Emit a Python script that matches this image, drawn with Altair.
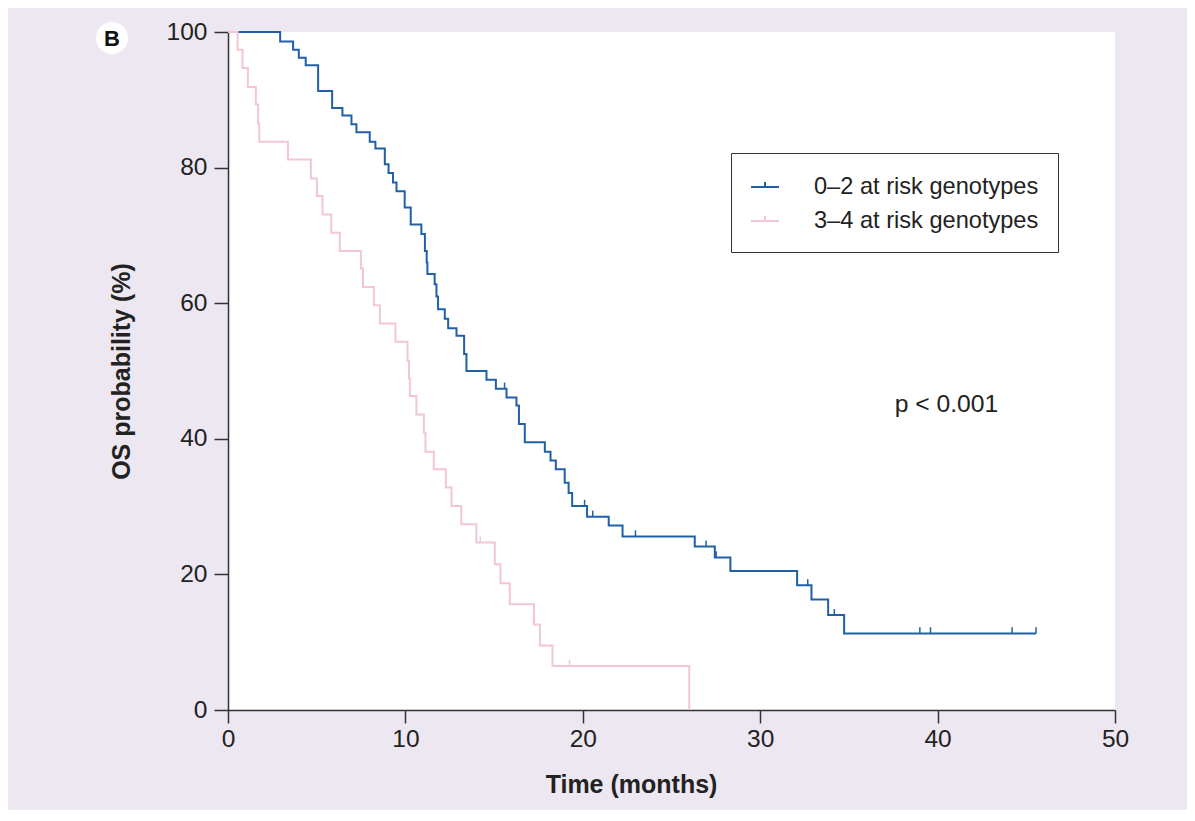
import altair as alt
import pandas as pd

# ---------------- data ----------------
blue_label = "0–2 at risk genotypes"
pink_label = "3–4 at risk genotypes"

blue_time = [0, 2.94, 3.67, 3.99, 4.38, 5.08, 5.87, 6.45, 6.96, 7.24, 7.99, 8.31, 8.84, 9.05,
             9.3, 9.5, 9.96, 10.3, 10.9, 11.1, 11.2, 11.24, 11.65, 11.75, 11.84, 12.22, 12.41,
             12.88, 13.31, 13.44, 14.57, 15.1, 15.7, 16.26, 16.4, 16.73, 17.86, 18.18, 18.48,
             18.98, 19.2, 19.4, 20.24, 21.46, 22.24, 26.31, 27.44, 28.32, 32.08, 32.89, 33.83,
             34.73, 45.55]
blue_surv = [100, 98.6, 97.4, 96.2, 95.1, 91.3, 88.8, 87.7, 86.4, 85.2, 83.8, 82.8, 80.5, 79.2,
             77.8, 76.5, 74.1, 71.6, 70.2, 67.7, 66.0, 64.3, 62.8, 61.0, 59.1, 57.7, 56.3,
             55.2, 52.5, 50.0, 48.7, 47.4, 46.1, 44.9, 42.2, 39.5, 38.1, 36.8, 35.5,
             33.5, 32.0, 30.1, 28.5, 27.2, 25.6, 24.1, 22.5, 20.5, 18.4, 16.3, 14.0,
             11.3, 11.3]

pink_time = [0, 0.54, 0.82, 1.12, 1.57, 1.7, 1.76, 3.38, 4.67, 5.01, 5.33, 5.82, 6.3, 7.49,
             7.61, 8.22, 8.56, 9.44, 10.12, 10.2, 10.25, 10.62, 11.04, 11.13, 11.6, 12.28,
             12.6, 13.15, 14.0, 15.04, 15.36, 15.88, 17.25, 17.58, 18.29, 26.0]
pink_surv = [100, 97.4, 94.7, 91.9, 89.3, 86.5, 83.8, 81.2, 78.4, 75.8, 73.1, 70.4, 67.7, 65.1,
             62.4, 59.7, 57.0, 54.3, 51.5, 48.9, 46.3, 43.6, 40.9, 38.1, 35.5, 32.8,
             30.1, 27.4, 24.7, 21.5, 18.7, 15.6, 12.6, 9.5, 6.5, 0]

blue_cens_time = [15.59, 20.1, 20.56, 22.97, 26.95, 27.52, 32.68, 34.18, 39.0, 39.6, 44.2, 45.55]
blue_cens_surv = [47.4, 30.1, 28.5, 25.6, 24.1, 22.5, 18.4, 14.0, 11.3, 11.3, 11.3, 11.3]
pink_cens_time = [14.22, 19.25]
pink_cens_surv = [24.7, 6.5]

p_text = ["p < 0.001"]
p_time = [40.5]
p_surv = [45.0]

panel_letter = ["B"]

x_ticks = [0, 10, 20, 30, 40, 50]
y_ticks = [0, 20, 40, 60, 80, 100]

blue_color = "#2060a8"
pink_color = "#f2c6d3"
font = "Liberation Sans"

# ---------------- frames ----------------
curves = pd.concat([
    pd.DataFrame({"time": blue_time, "surv": blue_surv, "group": blue_label}),
    pd.DataFrame({"time": pink_time, "surv": pink_surv, "group": pink_label}),
], ignore_index=True)
cens = pd.concat([
    pd.DataFrame({"time": blue_cens_time, "surv": blue_cens_surv, "group": blue_label}),
    pd.DataFrame({"time": pink_cens_time, "surv": pink_cens_surv, "group": pink_label}),
], ignore_index=True)
ptext = pd.DataFrame({"time": p_time, "surv": p_surv, "label": p_text})
letter = pd.DataFrame({"label": panel_letter})

xscale = alt.Scale(domain=[0, 50], nice=False)
yscale = alt.Scale(domain=[0, 100], nice=False)
cscale = alt.Scale(domain=[blue_label, pink_label], range=[blue_color, pink_color])

x_enc = alt.X("time:Q", scale=xscale,
              axis=alt.Axis(values=x_ticks, title="Time (months)", tickSize=13,
                            labelPadding=4, titlePadding=22, labelFlush=False,
                            titleX=403, titleAnchor="middle"))
y_enc = alt.Y("surv:Q", scale=yscale,
              axis=alt.Axis(values=y_ticks, title="OS probability (%)", tickSize=14,
                            labelPadding=7, titlePadding=32, labelFlush=False))

lines = alt.Chart(curves).mark_line(interpolate="step-after", strokeWidth=2).encode(
    x=x_enc,
    y=y_enc,
    color=alt.Color("group:N", scale=cscale, legend=alt.Legend(
        title=None, orient="none", legendX=503, legendY=121,
        strokeColor="#333333", fillColor="white", padding=19,
        symbolType="M-1,0H1M0,0V-0.35", symbolSize=784, symbolStrokeWidth=2,
        labelFontSize=23.6, labelFont=font, labelColor="#222222", labelOffset=34,
        rowPadding=7, labelLimit=400)),
)

ticks = alt.Chart(cens).transform_calculate(top="datum.surv + 0.9").mark_rule(strokeWidth=1.5).encode(
    x="time:Q",
    y="surv:Q",
    y2="top:Q",
    color=alt.Color("group:N", scale=cscale, legend=None),
)

ptxt = alt.Chart(ptext).mark_text(fontSize=24.7, font=font, color="#222222", align="center",
                                  baseline="middle").encode(
    x="time:Q", y="surv:Q", text="label:N")

badge = alt.Chart(letter).mark_point(filled=True, color="white", opacity=1, size=1024).encode(
    x=alt.value(-116), y=alt.value(6))
badge_txt = alt.Chart(letter).mark_text(fontSize=22, fontWeight="bold", font=font,
                                        color="#111111", align="center",
                                        baseline="middle").encode(
    x=alt.value(-116), y=alt.value(7), text="label:N")

chart = alt.layer(lines, ticks, ptxt, badge, badge_txt).properties(
    width=887, height=678,
    padding={"left": 220, "top": 24, "right": 72, "bottom": 100},
    autosize=alt.AutoSizeParams(type="none"),
    background="#ede7f1",
).configure_view(
    fill="white", stroke=None
).configure_axis(
    grid=False,
    domainColor="#333333", domainWidth=1.5,
    tickColor="#333333", tickWidth=1.5,
    labelFont=font, labelFontSize=24.5, labelColor="#222222",
    titleFont=font, titleFontSize=25, titleFontWeight="bold", titleColor="#222222",
)

chart.save("out.html", embed_options={"renderer": "svg", "actions": False})
